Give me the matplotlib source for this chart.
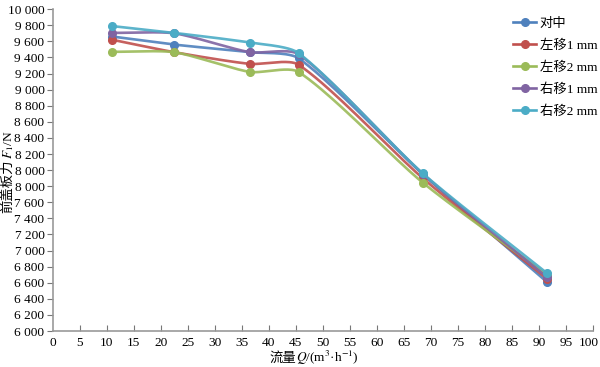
import numpy as np
import matplotlib.pyplot as plt
import matplotlib.transforms as mtransforms
from matplotlib.lines import Line2D
from matplotlib.offsetbox import TextArea, HPacker, AnchoredOffsetbox

plt.rcParams['font.family'] = ['Liberation Serif', 'Noto Sans CJK SC']
plt.rcParams['mathtext.fontset'] = 'stix'

# Data
# -----------------------------
flow = [11, 22.5, 36.5, 45.5, 68.5, 91.5]
series_names = ['对中', '左移1 mm', '左移2 mm', '右移1 mm', '右移2 mm']
center = [9660, 9560, 9465, 9390, 7950, 6610]
left1 = [9620, 9465, 9320, 9310, 7900, 6650]
left2 = [9470, 9465, 9220, 9220, 7845, 6700]
right1 = [9705, 9700, 9465, 9440, 7955, 6670]
right2 = [9790, 9705, 9585, 9455, 7960, 6720]
colors = ['#4F81BD', '#C0504D', '#9BBB59', '#8064A2', '#4BACC6']

y_ticks = list(range(6000, 10001, 200))
y_labels = ['6 000', '6 200', '6 400', '6 600', '6 800', '7 000', '7 200',
            '7 400', '7 600', '8 000', '8 000', '8 200', '8 400', '8 600',
            '8 800', '9 000', '9 200', '9 400', '9 600', '9 800', '10 000']
x_ticks = list(range(0, 101, 5))

# approximate screen scale (px per data unit), used for the smoothing
SX, SY = 5.4, 322 / 4000


def smooth(x, y, tension=0.5, n=40):
    # smoothed line: cubic Bezier, tangent direction from neighbours,
    # handle length proportional to each segment length (screen space)
    P = np.column_stack([np.asarray(x, float) * SX, np.asarray(y, float) * SY])
    m = len(P)
    dirs = []
    for i in range(m):
        a = P[max(i - 1, 0)]
        b = P[min(i + 1, m - 1)]
        d = b - a
        dirs.append(d / np.linalg.norm(d))
    t = np.linspace(0, 1, n)[:, None]
    out = []
    for i in range(m - 1):
        p0, p3 = P[i], P[i + 1]
        L = np.linalg.norm(p3 - p0)
        p1 = p0 + dirs[i] * L / 3 * tension * 2
        p2 = p3 - dirs[i + 1] * L / 3 * tension * 2
        b = (1 - t) ** 3 * p0 + 3 * (1 - t) ** 2 * t * p1 + 3 * (1 - t) * t ** 2 * p2 + t ** 3 * p3
        out.append(b)
    out = np.vstack(out)
    return out[:, 0] / SX, out[:, 1] / SY


# Plot
# -----------------------------
fs = 9.6
fig = plt.figure(figsize=(6, 3.67), dpi=100)
ax = fig.add_axes([0.088, 0.098, 0.9, 0.877])

handles = []
for vals, c, name in zip([center, left1, left2, right1, right2], colors, series_names):
    sx, sy = smooth(flow, vals, tension=0.35)
    ax.plot(sx, sy, color=c, lw=1.9, alpha=0.9, solid_capstyle='round')
    ax.plot(flow, vals, 'o', color=c, ms=5.5)
    handles.append(Line2D([], [], color=c, lw=1.9, marker='o', ms=5.5, label=name))

ax.set_xlim(0, 100)
ax.set_ylim(6000, 10000)
ax.set_xticks(x_ticks)
ax.set_xticklabels([str(v) for v in x_ticks])
ax.set_yticks(y_ticks)
ax.set_yticklabels(y_labels)

for s in ['top', 'right']:
    ax.spines[s].set_visible(False)
for s in ['left', 'bottom']:
    ax.spines[s].set_color('#999999')
    ax.spines[s].set_linewidth(1.2)

ax.tick_params(axis='x', direction='in', length=4, color='#777777', labelsize=fs, pad=4)
ax.tick_params(axis='y', direction='out', length=4, color='#777777', labelsize=fs, pad=2)
ax.xaxis.get_major_ticks()[0].tick1line.set_visible(False)
last = ax.get_xticklabels()[-1]
last.set_transform(last.get_transform() +
                   mtransforms.ScaledTranslation(-4 / 100, 0, fig.dpi_scale_trans))

# x label built from pieces (CJK + italic Q with units)
xl = HPacker(children=[TextArea('流量', textprops=dict(fontsize=fs)),
                       TextArea('$\\mathit{Q}$/(m$^{3}$·h$^{-1}$)', textprops=dict(fontsize=fs))],
             align='baseline', pad=0, sep=0)
box = AnchoredOffsetbox(loc='center', child=xl, frameon=False, pad=0,
                        bbox_to_anchor=(0.523, 0.024), bbox_transform=fig.transFigure)
fig.add_artist(box)

# y label pieces stacked bottom to top
fig.canvas.draw()
r = fig.canvas.get_renderer()
y0 = 0.42
t1 = fig.text(0.013, y0, '前盖板力', rotation=90, fontsize=fs, ha='center', va='bottom')
h1 = t1.get_window_extent(r).height / fig.bbox.height
t2 = fig.text(0.015, y0 + h1, '$\\mathit{F}_{1}$/N', rotation=90, fontsize=fs,
              ha='center', va='bottom')

ax.legend(handles=handles, loc='upper left', bbox_to_anchor=(0.852, 0.975),
          frameon=False, fontsize=fs, handlelength=1.75, handletextpad=0.25,
          labelspacing=0.72, borderpad=0, borderaxespad=0)

plt.savefig('out.png', dpi=100)
